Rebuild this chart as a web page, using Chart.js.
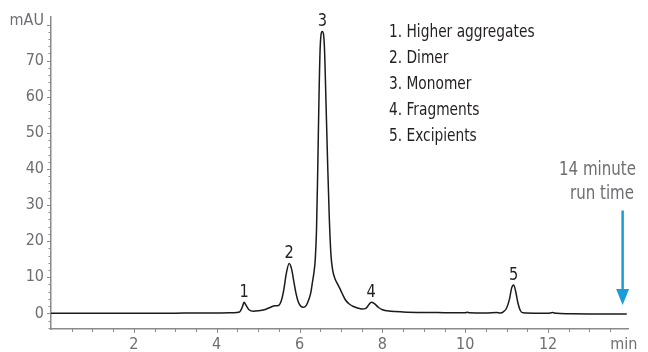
<!DOCTYPE html>
<html lang="en">
<head>
<meta charset="UTF-8">
<title>SEC chromatogram</title>
<script src="https://cdn.jsdelivr.net/npm/chart.js@4.4.0/dist/chart.umd.min.js"></script>
<style>
  html, body { margin: 0; padding: 0; background: #fff; }
</style>
</head>
<body>
<canvas id="chrom" width="648" height="352"></canvas>
<script>
// retention time (min) and detector signal (mAU)
const times = [0, 0.5, 1, 1.5, 2, 2.5, 3, 3.5, 4, 4.4, 4.55, 4.62, 4.66, 4.71, 4.78, 4.89, 5.0, 5.15, 5.3, 5.4,
  5.49, 5.56, 5.62, 5.68, 5.75, 5.81, 5.86, 5.91, 5.96, 6.02, 6.08, 6.14, 6.2, 6.27, 6.31, 6.35, 6.38, 6.41, 6.44, 6.47,
  6.5, 6.55, 6.6, 6.64, 6.68, 6.72, 6.76, 6.8, 6.85, 6.9, 6.96, 7.03, 7.11, 7.2, 7.3, 7.4, 7.5, 7.6, 7.68, 7.73,
  7.8, 7.9, 8.0, 8.2, 8.5, 9.0, 9.5, 10.0, 10.05, 10.1, 10.5, 10.76, 10.85, 10.92, 11.0, 11.07, 11.12, 11.17, 11.22, 11.27,
  11.33, 11.4, 11.7, 12.0, 12.11, 12.2, 12.5, 13.0, 13.5, 13.9];
const mau = [0, 0.02, 0, 0.03, 0.05, 0.02, 0.05, 0.1, 0.12, 0.2, 0.4, 1.8, 3.1, 2.2, 1.0, 0.6, 0.7, 1.0, 1.7, 2.1,
  2.2, 3.5, 6.5, 11, 13.8, 12.2, 9.0, 5.8, 3.5, 2.1, 1.7, 1.9, 3.1, 5.6, 8.5, 11.5, 15, 23, 40, 60,
  74, 78.1, 74, 58, 41, 26, 16, 12, 9.8, 8.5, 7.2, 5.5, 3.7, 2.6, 1.9, 1.5, 1.2, 1.4, 2.5, 3.1,
  2.8, 1.7, 1.0, 0.6, 0.4, 0.25, 0.2, 0.15, 0.3, 0.15, 0.1, 0.25, 0.1, 0.4, 1.5, 4, 7, 7.85, 6, 3,
  0.8, 0.15, 0.05, 0, 0.25, 0, -0.1, -0.15, -0.15, -0.2];

// numbered peaks
const peakNames = ['1', '2', '3', '4', '5'];
const peakTimes = [4.66, 5.75, 6.55, 7.73, 11.17];
const peakHeights = [3.1, 13.8, 78.1, 3.1, 7.85];

const legendLines = ['1. Higher aggregates', '2. Dimer', '3. Monomer', '4. Fragments', '5. Excipients'];

const xLabelTicks = [2, 4, 6, 8, 10, 12];
const yLabelTicks = [0, 10, 20, 30, 40, 50, 60, 70];
const xUnitAt = 13.83;
const yUnitAt = 81;

// run time marker
const runEnd = 13.8;
const arrowFrom = 28.5;
const arrowTo = 2.3;

const FONT = "'Liberation Sans Narrow', 'DejaVu Sans Condensed', Roboto, sans-serif";
const GREY = '#6d6e71';
const INK = '#231f20';
const BLUE = '#1a9cd8';

// narrow text: draw with a horizontal squeeze
function squeezed(ctx, text, x, y, size, sx) {
  ctx.save();
  ctx.font = size + 'px ' + FONT;
  ctx.translate(x, y);
  ctx.scale(sx, 1);
  ctx.fillText(text, 0, 0);
  ctx.restore();
}

const extras = {
  id: 'extras',
  afterDraw(chart) {
    const ctx = chart.ctx;
    const xs = chart.scales.x, ys = chart.scales.y;
    const area = chart.chartArea;
    ctx.save();

    // tick marks: minor every 0.5 min / 2 mAU
    ctx.strokeStyle = '#8a8a8a';
    ctx.lineWidth = 1;
    ctx.beginPath();
    for (let t = 0.5; t < xs.max; t += 0.5) {
      const px = Math.round(xs.getPixelForValue(t)) + 0.5;
      const len = (t % 2 === 0) ? 4 : 3;
      ctx.moveTo(px, area.bottom);
      ctx.lineTo(px, area.bottom + len);
    }
    for (let v = -4; v <= 80; v += 2) {
      const py = Math.round(ys.getPixelForValue(v)) + 0.5;
      const len = (v % 10 === 0) ? 4 : 2.5;
      ctx.moveTo(area.left, py);
      ctx.lineTo(area.left - len, py);
    }
    ctx.stroke();

    // peak numbers
    ctx.fillStyle = INK;
    ctx.textAlign = 'center';
    ctx.textBaseline = 'middle';
    peakNames.forEach((n, i) => {
      const px = xs.getPixelForValue(peakTimes[i]);
      const py = ys.getPixelForValue(peakHeights[i]) - 10;
      squeezed(ctx, n, px, py, 18, 0.9);
    });

    // peak key
    ctx.textAlign = 'left';
    legendLines.forEach((s, i) => {
      squeezed(ctx, s, 389, 32 + i * 26, 18, 0.85);
    });

    // arrow
    const ax = xs.getPixelForValue(runEnd);
    const y0 = ys.getPixelForValue(arrowFrom);
    const y1 = ys.getPixelForValue(arrowTo);
    ctx.strokeStyle = BLUE;
    ctx.fillStyle = BLUE;
    ctx.lineWidth = 2.5;
    ctx.beginPath();
    ctx.moveTo(ax, y0);
    ctx.lineTo(ax, y1 - 12);
    ctx.stroke();
    ctx.beginPath();
    ctx.moveTo(ax - 6.5, y1 - 16);
    ctx.lineTo(ax + 6.5, y1 - 16);
    ctx.lineTo(ax, y1);
    ctx.closePath();
    ctx.fill();

    ctx.fillStyle = GREY;
    ctx.textAlign = 'right';
    squeezed(ctx, '14 minute', 636, 170, 19, 0.88);
    squeezed(ctx, 'run time', 634, 194, 19, 0.88);
    ctx.restore();
  }
};

new Chart(document.getElementById('chrom'), {
  type: 'line',
  data: {
    datasets: [{
      data: times.map((t, i) => ({ x: t, y: mau[i] })),
      borderColor: '#1a1a1a',
      borderWidth: 1.5,
      pointRadius: 0,
      cubicInterpolationMode: 'monotone',
      fill: false
    }]
  },
  options: {
    responsive: false,
    animation: false,
    layout: { padding: { top: 15, right: 20, left: 0, bottom: 0 } },
    plugins: { legend: { display: false }, tooltip: { enabled: false } },
    scales: {
      x: {
        type: 'linear',
        min: 0,
        max: 13.93,
        grid: { display: false, drawTicks: false },
        border: { display: true, color: '#8a8a8a', width: 1.5 },
        afterBuildTicks: s => { s.ticks = xLabelTicks.concat([xUnitAt]).map(v => ({ value: v })); },
        afterFit: s => { s.height = 23; },
        ticks: {
          autoSkip: false,
          maxRotation: 0,
          padding: 6,
          color: GREY,
          font: { family: FONT, size: 16 },
          callback: v => (v === xUnitAt ? 'min' : v)
        }
      },
      y: {
        min: -4.33,
        max: 82.2,
        grid: { display: false, drawTicks: false },
        border: { display: true, color: '#8a8a8a', width: 1.5 },
        afterBuildTicks: s => { s.ticks = yLabelTicks.concat([yUnitAt]).map(v => ({ value: v })); },
        afterFit: s => { s.width = 51; },
        ticks: {
          autoSkip: false,
          padding: 7,
          color: GREY,
          font: { family: FONT, size: 16 },
          callback: v => (v === yUnitAt ? 'mAU' : v)
        }
      }
    }
  },
  plugins: [extras]
});
</script>
</body>
</html>
